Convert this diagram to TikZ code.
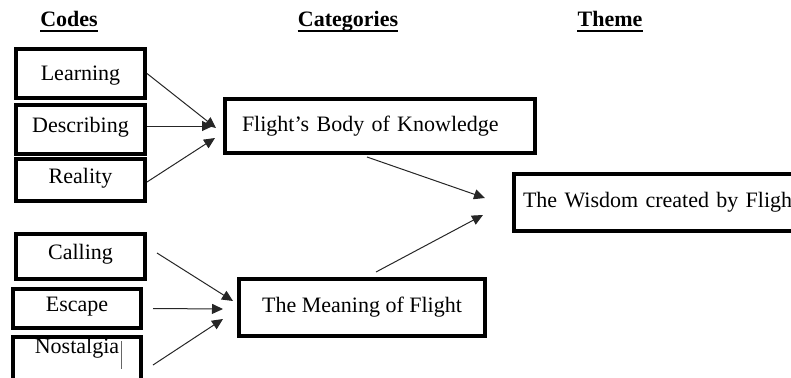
\documentclass[tikz,border=0pt]{standalone}
\usepackage{fontspec}
\setmainfont{Liberation Serif}
\usetikzlibrary{arrows.meta}

\begin{document}
\begin{tikzpicture}[
        x = 1pt, y = -1pt, % pixel grid, y pointing down
        > = {Triangle[length=11pt, width=10pt]}, % arrow head style
        font = \fontsize{22}{26}\selectfont
    ]

    \tikzstyle{heading}=[anchor = base, inner sep = 0pt,
    font = \fontsize{22}{26}\selectfont\bfseries]
    \tikzstyle{headrule}=[line width = 2pt]
    \tikzstyle{box}=[draw = black, line width = 4pt, rectangle, inner sep = 0pt]
    \tikzstyle{code}=[box, minimum width = 129pt, text height = 15pt,
    text depth = 9pt]
    \tikzstyle{flow}=[->, line width = 1pt, draw = black!85]

    \useasboundingbox (0,0) rectangle (791,377);
    \clip (0,0) rectangle (791,377);

    % headings
    \node (codes) [heading] at (69,27) {Codes};
    \node (categories) [heading] at (348,27) {Categories};
    \node (theme) [heading] at (610,27) {Theme};
    \foreach \h in {codes, categories, theme}
        \draw[headrule] ([yshift=-4pt]\h.base west) -- ([yshift=-4pt]\h.base east);

    % codes
    \node (learning) [code, minimum height = 49pt, text depth = 0pt] at (80.5,73.5) {Learning};
    \node (describing) [code, minimum height = 49pt] at (80.5,129.5) {Describing};
    \node (reality) [code, minimum height = 42pt] at (80.5,180) {Reality};
    \node (calling) [code, minimum height = 45pt] at (80.5,256.5) {Calling};
    \node (escape) [code, minimum width = 128pt, minimum height = 39pt] at (77,308.5) {Escape};
    \node (nostalgia) [code, minimum width = 128pt, minimum height = 53pt,
    text depth = 36pt] at (77,363.5) {Nostalgia};
    \draw[line width = 0.8pt, black!60] (121,341) -- (121,369); % caret

    % categories and theme
    \node (body) [box, anchor = west, text width = 276pt, align = left,
    inner xsep = 17pt, minimum height = 54pt] at (223,126) {Flight's Body of Knowledge};
    \node (meaning) [box, minimum width = 246pt, minimum height = 57pt]
    at (362,307.5) {The Meaning of Flight};
    \node (wisdom) [box, anchor = west, text width = 298pt, align = left,
    inner xsep = 9pt, minimum height = 57pt] at (512,202.5) {The Wisdom created by Flight};

    \path (learning.east) edge[flow] ([xshift=-7pt, yshift=-2pt]body.west);
    \path ([yshift=3.5pt]describing.east) edge[flow] ([xshift=-10pt]body.west);
    \path ([yshift=-2pt]reality.east) edge[flow] ([xshift=-8pt, yshift=-12pt]body.west);

    \path ([xshift=10pt, yshift=3.5pt]calling.east) edge[flow] ([xshift=-4pt, yshift=6.5pt]meaning.west);
    \path ([xshift=10pt]escape.east) edge[flow] ([xshift=-14pt, yshift=-1.5pt]meaning.west);
    \path ([xshift=10pt, yshift=-1.5pt]nostalgia.east) edge[flow] ([xshift=-14pt, yshift=-11.5pt]meaning.west);

    \path ([xshift=-13pt, yshift=-2pt]body.south) edge[flow] ([xshift=-27pt, yshift=4.5pt]wisdom.west);
    \path ([xshift=14pt, yshift=5pt]meaning.north) edge[flow] ([xshift=-29pt, yshift=-12.5pt]wisdom.west);

\end{tikzpicture}
\end{document}
